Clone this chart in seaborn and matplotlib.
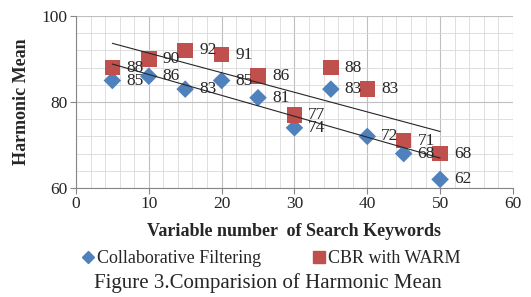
import numpy as np
import pandas as pd
import matplotlib
matplotlib.use("Agg")
import matplotlib.pyplot as plt
import seaborn as sns
from matplotlib.ticker import MultipleLocator

# Data
keywords = [5, 10, 15, 20, 25, 30, 35, 40, 45, 50]
collab_filtering = [85, 86, 83, 85, 81, 74, 83, 72, 68, 62]
cbr_warm = [88, 90, 92, 91, 86, 77, 88, 83, 71, 68]
series_names = ["Collaborative Filtering", "CBR with WARM"]

df = pd.DataFrame({
    "keywords": keywords * 2,
    "value": collab_filtering + cbr_warm,
    "series": [series_names[0]] * len(keywords) + [series_names[1]] * len(keywords),
})

sns.set_style("white")
plt.rcParams['font.family'] = 'serif'
plt.rcParams['font.serif'] = ['Liberation Serif']

fig = plt.figure(figsize=(5.31, 2.97), dpi=100)
ax = fig.add_axes([0.143, 0.367, 0.823, 0.579])

palette = {series_names[0]: "#4F81BD", series_names[1]: "#C0504D"}
markers = {series_names[0]: "D", series_names[1]: "s"}
sizes = {series_names[0]: 80, series_names[1]: 125}

for name in series_names:
    sub = df[df["series"] == name]
    sns.scatterplot(data=sub, x="keywords", y="value", color=palette[name],
                    marker=markers[name], s=sizes[name], edgecolor="none",
                    ax=ax, zorder=3, legend=False)
    # linear trendline
    k, b = np.polyfit(sub["keywords"], sub["value"], 1)
    xs = np.array([min(keywords), max(keywords)])
    ax.plot(xs, k * xs + b, color="#262626", lw=0.8, zorder=4)
    for xv, yv in zip(sub["keywords"], sub["value"]):
        ax.annotate(str(yv), (xv, yv), xytext=(10, 0), textcoords="offset points",
                    ha="left", va="center", fontsize=12.5, zorder=5)

ax.set_xlim(0, 60)
ax.set_ylim(60, 100)
ax.xaxis.set_major_locator(MultipleLocator(10))
ax.xaxis.set_minor_locator(MultipleLocator(2))
ax.yaxis.set_major_locator(MultipleLocator(20))
ax.yaxis.set_minor_locator(MultipleLocator(4))
ax.grid(which="major", color="#BFBFBF", lw=0.8)
ax.grid(which="minor", color="#D9D9D9", lw=0.6)
ax.set_axisbelow(True)
for side in ["top", "right"]:
    ax.spines[side].set_visible(False)
for side in ["left", "bottom"]:
    ax.spines[side].set_color("#868686")
    ax.spines[side].set_linewidth(0.8)
ax.tick_params(which="major", direction="out", length=4, color="#868686",
               labelsize=12.5, pad=2)
ax.tick_params(which="minor", length=0)
ax.tick_params(axis="x", bottom=True)
ax.tick_params(axis="y", left=True)

ax.set_xlabel("Variable number  of Search Keywords", fontsize=13, fontweight="bold", labelpad=8)
ax.set_ylabel("Harmonic Mean", fontsize=13, fontweight="bold", labelpad=8)

handles = [
    plt.Line2D([], [], marker="D", color="#4F81BD", ls="none", markersize=6),
    plt.Line2D([], [], marker="s", color="#C0504D", ls="none", markersize=8),
]
fig.legend(handles, series_names, loc="center", bbox_to_anchor=(0.508, 0.13), ncol=2,
           frameon=False, fontsize=13, handletextpad=0.0, columnspacing=2.7,
           handlelength=1.0)

fig.text(0.505, 0.047, "Figure 3.Comparision of Harmonic Mean", ha="center", va="center",
         fontsize=15)

fig.savefig("out.png", dpi=100)
